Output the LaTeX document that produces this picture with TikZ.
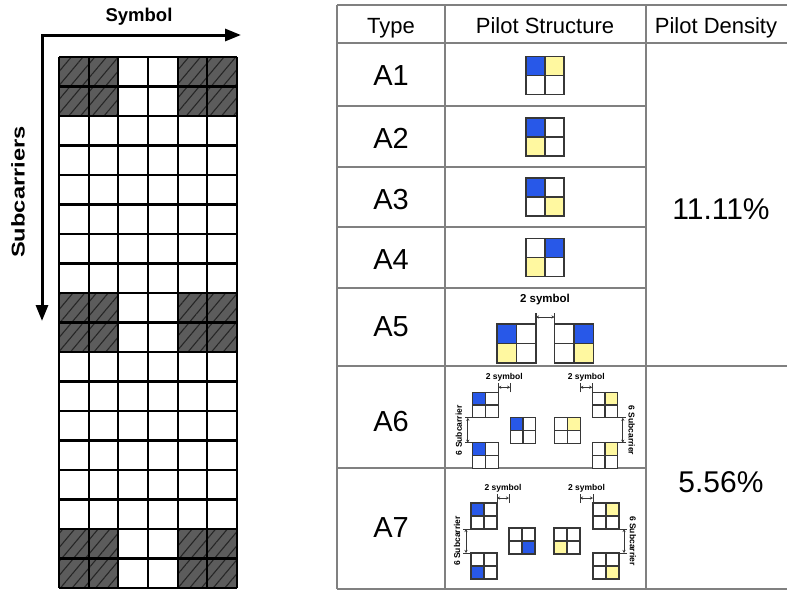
\documentclass[tikz,border=0pt]{standalone}
\usepackage{fontspec}
\setmainfont{Liberation Sans}
\usetikzlibrary{arrows.meta, patterns.meta, positioning, calc}

\definecolor{pilotblue}{RGB}{40,88,232}
\definecolor{pilotyellow}{RGB}{255,248,160}
\definecolor{hatchgray}{RGB}{92,92,92}
\definecolor{tablegray}{RGB}{128,128,128}
\definecolor{gridgray}{RGB}{55,55,55}

% colours of the four cells of a pilot block
\def\cTL{white}\def\cTR{white}\def\cBL{white}\def\cBR{white}

\tikzset{
  pgrid/.style={draw=gridgray, line width=1.2pt, minimum size=#1, inner sep=0pt, outer sep=0pt,
    path picture={
      \fill[\cTL] (path picture bounding box.north west) rectangle (path picture bounding box.center);
      \fill[\cTR] (path picture bounding box.north east) rectangle (path picture bounding box.center);
      \fill[\cBL] (path picture bounding box.south west) rectangle (path picture bounding box.center);
      \fill[\cBR] (path picture bounding box.south east) rectangle (path picture bounding box.center);
      \draw[gridgray, line width=1.2pt] (path picture bounding box.north) -- (path picture bounding box.south)
        (path picture bounding box.west) -- (path picture bounding box.east);
    }},
  tl/.code={\def\cTL{#1}}, tr/.code={\def\cTR{#1}},
  bl/.code={\def\cBL{#1}}, br/.code={\def\cBR{#1}},
  tabline/.style={draw=tablegray, line width=1.3pt},
  cellline/.style={draw=black, line width=2.2pt},
  hatched/.style={fill=hatchgray, postaction={pattern={Lines[angle=50,distance=9pt,line width=1.1pt]}, pattern color=black!85}},
  axis/.style={line width=3pt, {Triangle[length=16pt,width=12pt]}-{Triangle[length=16pt,width=12pt]}},
  axislbl/.style={font=\fontsize{18.5}{20}\selectfont\bfseries},
  hdr/.style={font=\fontsize{22}{24}\selectfont, anchor=base},
  typ/.style={font=\fontsize{29}{31}\selectfont},
  dens/.style={font=\fontsize{30}{32}\selectfont},
  dimtick/.style={draw=gridgray, line width=0.9pt},
  dimarr/.style={draw=gridgray, line width=0.8pt, {Stealth[length=3pt,width=3pt]}-{Stealth[length=3pt,width=3pt]}},
  dimlbl/.style={font=\fontsize{8.5}{9}\selectfont\bfseries, inner sep=0pt}
}

% spacing marks round the six pilot blocks of a row
\newcommand{\gapmarks}[1]{%
  \draw[dimtick] (#1a.north east) -- ++(0,-9);
  \draw[dimtick] (#1c.west |- #1a.north) -- ++(0,-9);
  \path (#1a.north east) ++(0,-5) coordinate (#1h1) (#1c.west |- #1a.north) ++(0,-5) coordinate (#1h2);
  \draw[dimarr] (#1h1) -- (#1h2);
  \node[dimlbl, above=6pt] (#1s1) at ($(#1h1)!0.5!(#1h2)$) {2 symbol};
  \draw[dimtick] (#1d.east |- #1e.north) -- ++(0,-9);
  \draw[dimtick] (#1e.north west) -- ++(0,-9);
  \path (#1d.east |- #1e.north) ++(0,-5) coordinate (#1h3) (#1e.north west) ++(0,-5) coordinate (#1h4);
  \draw[dimarr] (#1h3) -- (#1h4);
  \node[dimlbl, above=6pt] (#1s2) at ($(#1h3)!0.5!(#1h4)$) {2 symbol};
  \draw[dimtick] (#1a.south west) -- ++(-8,0);
  \draw[dimtick] (#1b.north west) -- ++(-8,0);
  \path (#1a.south west) ++(-5,0) coordinate (#1v1) (#1b.north west) ++(-5,0) coordinate (#1v2);
  \draw[dimarr] (#1v1) -- (#1v2);
  \node[dimlbl, rotate=90] (#1s3) at ($(#1v1)!0.5!(#1v2)+(-9,0)$) {6 Subcarrier};
  \draw[dimtick] (#1e.south east) -- ++(8,0);
  \draw[dimtick] (#1f.north east) -- ++(8,0);
  \path (#1e.south east) ++(5,0) coordinate (#1v3) (#1f.north east) ++(5,0) coordinate (#1v4);
  \draw[dimarr] (#1v3) -- (#1v4);
  \node[dimlbl, rotate=-90] (#1s4) at ($(#1v3)!0.5!(#1v4)+(9,0)$) {6 Subcarrier};
}

\begin{document}
\begin{tikzpicture}[x=1pt, y=-1pt]
  \useasboundingbox (0,0) rectangle (787,590);

  % resource grid
  \foreach \r in {0,1,8,9,16,17}
    \foreach \c in {0,1,4,5}
      \fill[hatched] (59+\c*29.67,57+\r*29.5) rectangle ++(29.67,29.5);
  \foreach \i in {0,...,6}
    \draw[cellline] (59+\i*29.67,57) -- (59+\i*29.67,588);
  \foreach \j in {0,...,18}
    \draw[cellline] (59,57+\j*29.5) -- (237,57+\j*29.5);

  \coordinate (origin) at (42,35);
  \coordinate (symend) at (241,35);
  \coordinate (subend) at (42,321);
  \draw[axis] (symend) -- (origin) -- (subend);
  \node[axislbl] (symbol) at (139,17) {Symbol};
  \node[axislbl, rotate=90] (subcar) at (18,192) {\scalebox{1.28}[1]{Subcarriers}};

  % table
  \draw[tabline] (337,5) -- (787,5) (337,43) -- (787,43) (337,366) -- (787,366) (337,589) -- (787,589);
  \foreach \y in {106,167,227,288,468}
    \draw[tabline] (337,\y) -- (646,\y);
  \foreach \x in {337,445,646}
    \draw[tabline] (\x,5) -- (\x,589);

  \node[hdr] (htype) at (391,33) {Type};
  \node[hdr] (hstruct) at (545,33) {Pilot Structure};
  \node[hdr] (hdens) at (716,33) {Pilot Density};

  \node[typ] (a1) at (391,76) {A1};
  \node[typ] (a2) at (391,138) {A2};
  \node[typ] (a3) at (391,200) {A3};
  \node[typ] (a4) at (391,260) {A4};
  \node[typ] (a5) at (391,327) {A5};
  \node[typ] (a6) at (391,422) {A6};
  \node[typ] (a7) at (391,528) {A7};

  \node[dens] (d1) at (721,209) {11.11\%};
  \node[dens] (d2) at (721,482) {5.56\%};

  % pilot blocks A1--A4
  \node[pgrid=38pt, tl=pilotblue, tr=pilotyellow] (g1) at (545,75.5) {};
  \node[pgrid=38pt, tl=pilotblue, bl=pilotyellow] (g2) at (545,137) {};
  \node[pgrid=38pt, tl=pilotblue, br=pilotyellow] (g3) at (545,197) {};
  \node[pgrid=38pt, tr=pilotblue, bl=pilotyellow] (g4) at (545,257.5) {};

  % A5
  \node[pgrid=39pt, tl=pilotblue, bl=pilotyellow] (g5a) at (516.5,343.5) {};
  \node[pgrid=39pt, tr=pilotblue, br=pilotyellow] (g5b) at (574,343.5) {};
  \draw[dimtick, line width=1.2pt] (g5a.north east) -- ++(0,-11);
  \draw[dimtick, line width=1.2pt] (g5b.north west) -- ++(0,-11);
  \path (g5a.north east) ++(0,-7) coordinate (h5a) (g5b.north west) ++(0,-7) coordinate (h5b);
  \draw[dimarr] (h5a) -- (h5b);
  \node[dimlbl, font=\fontsize{11.5}{12}\selectfont\bfseries] (s5) at (545,300) {2 symbol};

  % A6
  \node[pgrid=25.5pt, tl=pilotblue] (g6a) at (485.5,405) {};
  \node[pgrid=25.5pt, tl=pilotblue] (g6b) at (485.5,455.5) {};
  \node[pgrid=25.5pt, tl=pilotblue] (g6c) at (523,430.5) {};
  \node[pgrid=25.5pt, tr=pilotyellow] (g6d) at (567.5,430.5) {};
  \node[pgrid=25.5pt, tr=pilotyellow] (g6e) at (605,405) {};
  \node[pgrid=25.5pt, tr=pilotyellow] (g6f) at (605,455.5) {};
  \gapmarks{g6}

  % A7
  \node[pgrid=26pt, tl=pilotblue] (g7a) at (484,516) {};
  \node[pgrid=26pt, bl=pilotblue] (g7b) at (484,566) {};
  \node[pgrid=26pt, br=pilotblue] (g7c) at (522,541) {};
  \node[pgrid=26pt, bl=pilotyellow] (g7d) at (567,541) {};
  \node[pgrid=26pt, tr=pilotyellow] (g7e) at (606,516) {};
  \node[pgrid=26pt, br=pilotyellow] (g7f) at (606,566) {};
  \gapmarks{g7}
\end{tikzpicture}
\end{document}
